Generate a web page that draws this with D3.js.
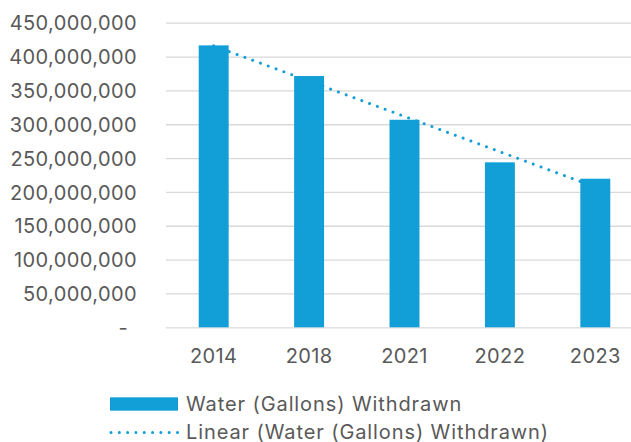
<!DOCTYPE html>
<html>
<head>
<meta charset="utf-8">
<script src="https://cdn.jsdelivr.net/npm/d3@7"></script>
<style>
  html, body { margin: 0; padding: 0; background: #fff; }
  svg { display: block; font-family: Inter, "Liberation Sans", sans-serif; }
</style>
</head>
<body>
<svg id="chart"></svg>
<script>
// data
const years = ['2014', '2018', '2021', '2022', '2023']
const withdrawn = [416500000, 371200000, 306600000, 243700000, 219500000]
const yTicks = [0, 50e6, 100e6, 150e6, 200e6, 250e6, 300e6, 350e6, 400e6, 450e6]
const seriesName = 'Water (Gallons) Withdrawn'
const trendName = 'Linear (Water (Gallons) Withdrawn)'

const width = 631
const height = 442
const margin = { top: 22.7, right: -12, bottom: 114.7, left: 166 }

const barColour = '#129ed7'
const gridColour = '#d9d9d9'
const textColour = '#595959'

const svg = d3.select('#chart')
  .attr('width', width)
  .attr('height', height)

/// Scales ///
const xScale = d3.scaleBand()
  .domain(years)
  .range([margin.left, width - margin.right])
  .paddingInner(0.686)
  .paddingOuter(0.343)

const yScale = d3.scaleLinear()
  .domain([0, 450e6])
  .range([height - margin.bottom, margin.top])

/// Gridlines + y labels ///
const yAxis = g => g
  .attr('transform', `translate(${margin.left}, 0)`)
  .call(d3.axisLeft(yScale)
    .tickValues(yTicks)
    .tickSize(-(width - margin.right - margin.left))
    .tickPadding(29)
    .tickFormat(d => d === 0 ? '-' : d3.format(',')(d))
  )
  .call(g => g.select('.domain').remove())
  .call(g => g.selectAll('.tick line')
    .attr('stroke', gridColour)
    .attr('stroke-width', 1.3)
  )
  .call(g => g.selectAll('.tick text')
    .attr('fill', textColour)
    .attr('font-size', '20px')
    .attr('letter-spacing', '0.4px')
    .attr('font-family', 'Inter, "Liberation Sans", sans-serif')
    .attr('dy', '0.36em')
  )
  .call(g => g.selectAll('.tick').filter(d => d === 0).select('text')
    .attr('dx', -9)
  )

svg.append('g').call(yAxis)

/// x labels ///
const xAxis = g => g
  .attr('transform', `translate(0, ${height - margin.bottom})`)
  .call(d3.axisBottom(xScale).tickSize(0).tickPadding(22))
  .call(g => g.select('.domain').remove())
  .call(g => g.selectAll('.tick text')
    .attr('fill', textColour)
    .attr('font-size', '20px')
    .attr('letter-spacing', '0.4px')
    .attr('font-family', 'Inter, "Liberation Sans", sans-serif')
  )

svg.append('g').call(xAxis)

/// Linear trendline (least squares over category index), drawn behind bars ///
const n = withdrawn.length
const xs = d3.range(1, n + 1)
const xMean = d3.mean(xs)
const yMean = d3.mean(withdrawn)
const slope = d3.sum(xs, (x, i) => (x - xMean) * (withdrawn[i] - yMean)) / d3.sum(xs, x => (x - xMean) ** 2)
const intercept = yMean - slope * xMean
const trend = years.map((yr, i) => ({ year: yr, value: intercept + slope * xs[i] }))

const centre = yr => xScale(yr) + xScale.bandwidth() / 2

svg.append('path')
  .datum([trend[0], trend[n - 1]])
  .attr('d', d3.line().x(d => centre(d.year)).y(d => yScale(d.value)))
  .attr('fill', 'none')
  .attr('stroke', barColour)
  .attr('stroke-width', 3)
  .attr('stroke-linecap', 'round')
  .attr('stroke-dasharray', '0.01 8.3')

/// Bars ///
svg.append('g')
  .selectAll('rect')
  .data(years.map((yr, i) => ({ year: yr, value: withdrawn[i] })))
  .join('rect')
    .attr('x', d => xScale(d.year))
    .attr('y', d => yScale(d.value))
    .attr('width', xScale.bandwidth())
    .attr('height', d => yScale(0) - yScale(d.value))
    .attr('fill', barColour)

/// Legend ///
const legend = svg.append('g')
  .attr('font-size', '20px')
  .attr('letter-spacing', '0.9px')
  .attr('fill', textColour)

legend.append('rect')
  .attr('x', 110).attr('y', 397.3)
  .attr('width', 68).attr('height', 13.4)
  .attr('fill', barColour)

legend.append('text')
  .attr('x', 186).attr('y', 410.7)
  .text(seriesName)

legend.append('line')
  .attr('x1', 111).attr('x2', 178)
  .attr('y1', 432.5).attr('y2', 432.5)
  .attr('stroke', barColour)
  .attr('stroke-width', 3)
  .attr('stroke-linecap', 'round')
  .attr('stroke-dasharray', '0.01 8.3')

legend.append('text')
  .attr('x', 186).attr('y', 438.5)
  .text(trendName)
</script>
</body>
</html>
